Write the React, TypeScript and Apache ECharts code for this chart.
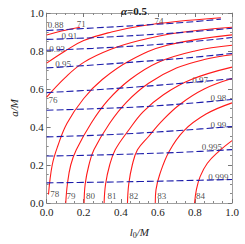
import React, { useEffect, useRef } from "react";
import * as echarts from "echarts";

const FONT = "Liberation Serif";

// Red solid contours (l0/M, a/M)
const c71 = [[0, 0.884], [0.08, 0.905], [0.18, 0.925]];
const c74 = [[0, 0.736], [0.1, 0.8], [0.2, 0.855], [0.35, 0.9], [0.5, 0.93], [0.7, 0.955], [0.94, 0.975]];
const c76 = [[0, 0.557], [0.1, 0.66], [0.2, 0.74], [0.35, 0.81], [0.5, 0.855], [0.7, 0.895], [1.0, 0.925]];
const c78 = [[0.01, 0.045], [0.03, 0.2], [0.06, 0.3], [0.11, 0.42], [0.2, 0.55], [0.3, 0.65], [0.45, 0.75], [0.65, 0.83], [1.0, 0.885]];
const c79 = [[0.103, 0], [0.112, 0.1], [0.13, 0.2], [0.16, 0.28], [0.24, 0.42], [0.33, 0.54], [0.45, 0.65], [0.6, 0.74], [0.8, 0.8], [1.0, 0.83]];
const c80 = [[0.202, 0], [0.208, 0.1], [0.228, 0.2], [0.255, 0.28], [0.34, 0.42], [0.43, 0.53], [0.55, 0.63], [0.7, 0.71], [0.85, 0.755], [1.0, 0.78]];
const c81 = [[0.31, 0], [0.318, 0.1], [0.34, 0.2], [0.37, 0.28], [0.44, 0.38], [0.52, 0.48], [0.63, 0.57], [0.78, 0.65], [1.0, 0.715]];
const c82 = [[0.436, 0], [0.443, 0.1], [0.462, 0.2], [0.49, 0.28], [0.55, 0.35], [0.62, 0.43], [0.72, 0.52], [0.85, 0.6], [1.0, 0.655]];
const c83 = [[0.586, 0], [0.59, 0.07], [0.61, 0.15], [0.66, 0.27], [0.74, 0.38], [0.86, 0.468], [1.0, 0.527]];
const c84 = [[0.798, 0], [0.808, 0.07], [0.828, 0.139], [0.867, 0.209], [0.926, 0.269], [1.0, 0.328]];
const redCurves = [c71, c74, c76, c78, c79, c80, c81, c82, c83, c84];

// Blue dashed contours
const b088 = [[0, 0.908], [0.25, 0.921], [0.5, 0.935], [0.75, 0.951], [0.94, 0.968]];
const b091 = [[0, 0.861], [0.25, 0.87], [0.5, 0.883], [0.75, 0.899], [1, 0.92]];
const b093 = [[0, 0.804], [0.25, 0.814], [0.5, 0.828], [0.75, 0.846], [1, 0.871]];
const b095 = [[0, 0.711], [0.25, 0.726], [0.5, 0.744], [0.75, 0.763], [1, 0.787]];
const b097 = [[0, 0.581], [0.25, 0.595], [0.5, 0.612], [0.75, 0.632], [1, 0.654]];
const b098 = [[0, 0.488], [0.25, 0.496], [0.5, 0.506], [0.75, 0.523], [1, 0.545]];
const b099 = [[0, 0.348], [0.25, 0.356], [0.5, 0.368], [0.75, 0.384], [1, 0.403]];
const b0995 = [[0, 0.247], [0.25, 0.252], [0.5, 0.259], [0.75, 0.268], [1, 0.281]];
const b0999 = [[0, 0.106], [0.25, 0.109], [0.5, 0.113], [0.75, 0.118], [1, 0.124]];
const blueCurves = [b088, b091, b093, b095, b097, b098, b099, b0995, b0999];

// Contour labels
const labelTexts = ["0.88", "0.91", "0.93", "0.95", "0.97", "0.98", "0.99", "0.995", "0.999", "71", "74", "76", "78", "79", "80", "81", "82", "83", "84"];
const labelX = [0.049, 0.123, 0.057, 0.089, 0.828, 0.926, 0.926, 0.892, 0.926, 0.187, 0.606, 0.034, 0.044, 0.131, 0.236, 0.352, 0.47, 0.621, 0.83];
const labelY = [0.935, 0.881, 0.812, 0.731, 0.647, 0.552, 0.413, 0.294, 0.139, 0.94, 0.96, 0.542, 0.047, 0.035, 0.035, 0.035, 0.035, 0.035, 0.035];

const frameColor = "#a0a0a0";

function axisBase(position: string, showLabel: boolean) {
  return {
    type: "value",
    min: 0,
    max: 1,
    interval: 0.2,
    position,
    axisLine: { show: true, onZero: false, lineStyle: { color: frameColor, width: 1 } },
    axisTick: { show: true, inside: true, length: 4, lineStyle: { color: "#777" } },
    minorTick: { show: true, splitNumber: 4, length: 2, lineStyle: { color: "#888" } },
    splitLine: { show: false },
    axisLabel: {
      show: showLabel,
      formatter: (v: number) => v.toFixed(1),
      fontFamily: FONT,
      fontSize: 11,
      color: "#222",
      margin: 3,
    },
  };
}

export default function App() {
  const ref = useRef<HTMLDivElement>(null);
  useEffect(() => {
    if (!ref.current) return;
    const chart = echarts.init(ref.current, null, { renderer: "svg" });
    const series: any[] = [];
    redCurves.forEach((d) =>
      series.push({
        type: "line",
        data: d,
        smooth: 0.4,
        showSymbol: false,
        symbol: "none",
        lineStyle: { color: "#ff1a1a", width: 1.1 },
        silent: true,
      })
    );
    blueCurves.forEach((d) =>
      series.push({
        type: "line",
        data: d,
        smooth: 0.4,
        showSymbol: false,
        symbol: "none",
        lineStyle: { color: "#1c1caa", width: 1.1, type: [7, 3] },
        silent: true,
      })
    );
    series.push({
      type: "scatter",
      symbolSize: 0,
      silent: true,
      data: labelTexts.map((t, i) => ({ value: [labelX[i], labelY[i]], name: t })),
      label: {
        show: true,
        position: "inside",
        formatter: (p: any) => p.name,
        fontFamily: FONT,
        fontSize: 9,
        color: "#222",
      },
    });
    chart.setOption({
      animation: false,
      title: {
        text: "{i|α}{n|=0.5}",
        left: 116,
        top: 0,
        textStyle: {
          rich: {
            i: { fontFamily: FONT, fontStyle: "italic", fontSize: 11, color: "#222" },
            n: { fontFamily: FONT, fontSize: 11, color: "#222" },
          },
        },
      },
      grid: { left: 29, right: 13, top: 13, bottom: 30 },
      xAxis: [
        {
          ...axisBase("bottom", true),
          name: "{i|l}{s|0}{i|/M}",
          nameLocation: "middle",
          nameGap: 22,
          nameTextStyle: {
            rich: {
              i: { fontFamily: FONT, fontStyle: "italic", fontSize: 11, color: "#222", lineHeight: 14, verticalAlign: "middle" },
              s: { fontFamily: FONT, fontSize: 8, color: "#222", lineHeight: 14, verticalAlign: "bottom" },
            },
          },
        },
        { ...axisBase("top", false) },
      ],
      yAxis: [
        {
          ...axisBase("left", true),
          name: "a/M",
          nameLocation: "middle",
          nameGap: 20,
          nameTextStyle: { fontFamily: FONT, fontStyle: "italic", fontSize: 11, color: "#222" },
        },
        { ...axisBase("right", false) },
      ],
      series,
    });
    return () => chart.dispose();
  }, []);
  return <div ref={ref} style={{ width: 245, height: 244, position: "absolute", left: 0, top: 0 }} />;
}
